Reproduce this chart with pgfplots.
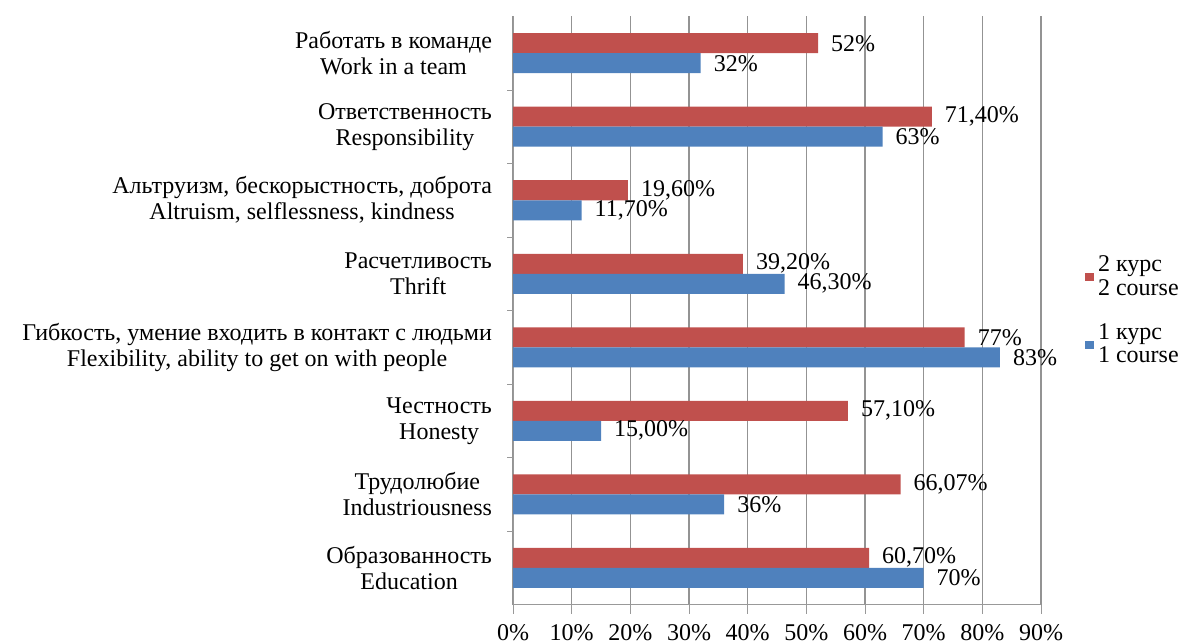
\documentclass[border=0pt]{standalone}
\usepackage{pgfplots}
\pgfplotsset{compat=1.18}
\usepackage{fontspec}
\setmainfont{Liberation Serif}
\definecolor{cred}{HTML}{C0504D}
\definecolor{cblue}{HTML}{4F81BD}
\begin{document}
\begin{tikzpicture}
\begin{axis}[
  name=ax,
  scale only axis,
  width=264pt, height=294pt,
  xmin=0, xmax=90,
  ymin=0.5, ymax=8.5,
  y dir=reverse,
  xbar, bar width=10pt,
  axis x line*=bottom,
  axis y line*=left,
  axis line style={draw=gray!80},
  xtick={0,10,...,90},
  xticklabels={0\%,10\%,20\%,30\%,40\%,50\%,60\%,70\%,80\%,90\%},
  xmajorgrids, grid style={gray!85, line width=0.6pt},
  tick align=outside,
  major tick length=4.5pt,
  minor tick length=3pt,
  xtick style={draw=gray!80},
  ytick={1,...,8},
  yticklabels={
    {Работать в команде\\Work in a team},
    {Ответственность\\Responsibility},
    {Альтруизм, бескорыстность, доброта\\Altruism, selflessness, kindness},
    {Расчетливость\\Thrift},
    {Гибкость, умение входить в контакт с людьми\\Flexibility, ability to get on with people},
    {Честность\\Honesty},
    {Трудолюбие\\Industriousness},
    {Образованность\\Education}},
  major y tick style={draw=none},
  minor ytick={1.5,2.5,...,7.5},
  minor y tick style={draw=gray!80},
  yticklabel style={align=center, font=\fontsize{12}{13}\selectfont, xshift=-2.5pt},
  xticklabel style={font=\fontsize{12}{13}\selectfont, yshift=-2pt},
  point meta=explicit symbolic,
  nodes near coords,
  every node near coord/.append style={anchor=west, font=\fontsize{12}{13}\selectfont, xshift=3pt, black},
  legend style={at={(1.083,0.600)}, anchor=north west, draw=none, fill=none,
     font=\fontsize{12}{10}\selectfont, cells={align=left}, row sep=9pt, inner sep=0pt},
  legend cell align=left,
  legend image code/.code={\fill[#1] (0pt,-2.2pt) rectangle (4.4pt,2.2pt);},
  clip=false,
]
\addplot[fill=cred, draw=none, bar shift=5pt] coordinates {
  (52,1) [52\%]
  (71.4,2) [71,40\%]
  (19.6,3) [19,60\%]
  (39.2,4) [39,20\%]
  (77,5) [77\%]
  (57.1,6) [57,10\%]
  (66.07,7) [66,07\%]
  (60.7,8) [60,70\%]
};
\addlegendentry{2 курс\\2 course}
\addplot[fill=cblue, draw=none, bar shift=-5pt] coordinates {
  (32,1) [32\%]
  (63,2) [63\%]
  (11.7,3) [11,70\%]
  (46.3,4) [46,30\%]
  (83,5) [83\%]
  (15.0,6) [15,00\%]
  (36,7) [36\%]
  (70,8) [70\%]
};
\addlegendentry{1 курс\\1 course}
\end{axis}
\pgfresetboundingbox
\path ([xshift=-256.5pt,yshift=-19.25pt]ax.south west) rectangle ([xshift=74.5pt,yshift=8.25pt]ax.north east);
\end{tikzpicture}
\end{document}
